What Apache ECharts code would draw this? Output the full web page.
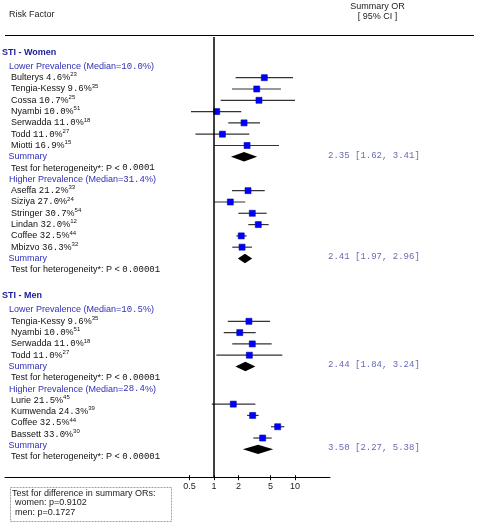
<!DOCTYPE html>
<html>
<head>
<meta charset="utf-8">
<script src="https://cdn.jsdelivr.net/npm/echarts@6/dist/echarts.min.js"></script>
<style>
html,body{margin:0;padding:0;background:#fff;}
#chart{width:478px;height:524px;}
</style>
</head>
<body>
<div id="chart"></div>
<script>
// ---------- DATA ----------
const xTicks = [0.5, 1, 2, 5, 10];

// STI - Women, lower prevalence
const wLowNames = ['Bulterys', 'Tengia-Kessy', 'Cossa', 'Nyambi', 'Serwadda', 'Todd', 'Miotti'];
const wLowPrev  = ['4.6', '9.6', '10.7', '10.0', '11.0', '11.0', '16.9'];
const wLowRefs  = ['23', '35', '25', '51', '18', '27', '15'];
const wLowOR    = [4.18, 3.37, 3.59, 1.08, 2.35, 1.27, 2.56];
const wLowLo    = [1.85, 1.67, 1.21, 0.52, 1.50, 0.59, 1.00];
const wLowHi    = [9.45, 6.71, 10.0, 2.17, 3.70, 2.73, 6.35];
const wLowSummary = [2.35, 1.62, 3.41];
const wLowMedian = '10.0';
const wLowHet = '0.0001';

// STI - Women, higher prevalence
const wHighNames = ['Aseffa', 'Siziya', 'Stringer', 'Lindan', 'Coffee', 'Mbizvo'];
const wHighPrev  = ['21.2', '27.0', '30.7', '32.0', '32.5', '36.3'];
const wHighRefs  = ['33', '24', '54', '12', '44', '32'];
const wHighOR    = [2.63, 1.59, 2.97, 3.52, 2.17, 2.22];
const wHighLo    = [1.67, 1.00, 2.00, 2.65, 1.89, 1.68];
const wHighHi    = [4.23, 2.43, 4.47, 4.73, 2.53, 2.94];
const wHighSummary = [2.41, 1.97, 2.96];
const wHighMedian = '31.4';
const wHighHet = '0.00001';

// STI - Men, lower prevalence
const mLowNames = ['Tengia-Kessy', 'Nyambi', 'Serwadda', 'Todd'];
const mLowPrev  = ['9.6', '10.0', '11.0', '11.0'];
const mLowRefs  = ['35', '51', '18', '27'];
const mLowOR    = [2.70, 2.08, 2.97, 2.73];
const mLowLo    = [1.48, 1.32, 1.68, 1.07];
const mLowHi    = [4.91, 3.27, 5.15, 6.97];
const mLowSummary = [2.44, 1.84, 3.24];
const mLowMedian = '10.5';
const mLowHet = '0.00001';

// STI - Men, higher prevalence
const mHighNames = ['Lurie', 'Kumwenda', 'Coffee', 'Bassett'];
const mHighPrev  = ['21.5', '24.3', '32.5', '33.0'];
const mHighRefs  = ['45', '39', '44', '30'];
const mHighOR    = [1.73, 3.00, 6.11, 3.99];
const mHighLo    = [0.94, 2.56, 5.05, 3.06];
const mHighHi    = [3.24, 3.56, 7.38, 5.15];
const mHighSummary = [3.50, 2.27, 5.38];
const mHighMedian = '28.4';
const mHighHet = '0.00001';

const groupTitles = ['STI - Women', 'STI - Men'];
const prevLabels = ['Lower Prevalence', 'Higher Prevalence'];
const diffTitle = 'Test for difference in summary ORs:';
const diffWomen = 'women: p=0.9102';
const diffMen = 'men: p=0.1727';

// ---------- LAYOUT ----------
const SANS = 'Liberation Sans, Arial, sans-serif';
const MONO = 'Liberation Mono, Courier New, monospace';
const Y_MIN = -3.6, Y_MAX = 35.4;     // row units covered by plot area
const X_MIN = 0.00263, X_MAX = 27.04; // log-axis extent covering the plot width

const groups = [
  { title: groupTitles[0], subs: [
    { label: prevLabels[0], start: -1, shift: 0, names: wLowNames, prev: wLowPrev, refs: wLowRefs, or: wLowOR, lo: wLowLo, hi: wLowHi, sum: wLowSummary, median: wLowMedian, het: wLowHet },
    { label: prevLabels[1], start: 9, shift: 0, names: wHighNames, prev: wHighPrev, refs: wHighRefs, or: wHighOR, lo: wHighLo, hi: wHighHi, sum: wHighSummary, median: wHighMedian, het: wHighHet }
  ]},
  { title: groupTitles[1], subs: [
    { label: prevLabels[0], start: 20.56, shift: 0, names: mLowNames, prev: mLowPrev, refs: mLowRefs, or: mLowOR, lo: mLowLo, hi: mLowHi, sum: mLowSummary, median: mLowMedian, het: mLowHet },
    { label: prevLabels[1], start: 27.56, shift: 0.33, names: mHighNames, prev: mHighPrev, refs: mHighRefs, or: mHighOR, lo: mHighLo, hi: mHighHi, sum: mHighSummary, median: mHighMedian, het: mHighHet }
  ]}
];

const studyData = [];
const summaryData = [];
groups.forEach(g => g.subs.forEach(s => {
  s.names.forEach((n, i) => {
    studyData.push([s.or[i], s.start + 1 + i + s.shift, s.lo[i], s.hi[i]]);
  });
  summaryData.push([s.sum[0], s.start + s.names.length + 1 + s.shift, s.sum[1], s.sum[2]]);
}));

const chart = echarts.init(document.getElementById('chart'), null, { renderer: 'canvas' });

const option = {
  animation: false,
  backgroundColor: '#fff',
  grid: { left: 5, top: 37, width: 325, height: 440.7 },
  xAxis: [
    {
      type: 'log', logBase: 10, min: X_MIN, max: X_MAX, position: 'bottom',
      axisLine: { show: true, onZero: false, lineStyle: { color: '#000', width: 1 } },
      axisTick: { show: true, length: 2.5, customValues: xTicks, lineStyle: { color: '#000' } },
      axisLabel: { show: true, customValues: xTicks, margin: 4, fontSize: 9, fontFamily: SANS, color: '#222',
        formatter: v => String(v) },
      splitLine: { show: false }, minorTick: { show: false }
    },
    {
      type: 'log', logBase: 10, min: X_MIN, max: X_MAX, position: 'bottom', offset: 0,
      axisLine: { show: false, onZero: false },
      axisTick: { show: true, inside: true, length: 2.5, customValues: xTicks, lineStyle: { color: '#000' } },
      axisLabel: { show: false },
      splitLine: { show: false }
    }
  ],
  yAxis: { type: 'value', inverse: true, min: Y_MIN, max: Y_MAX, show: false },
  series: [
    {
      type: 'line', xAxisIndex: 0, data: [[1, Y_MIN], [1, Y_MAX]], symbol: 'none', silent: true,
      lineStyle: { color: '#000', width: 1.5 }
    },
    {
      type: 'custom', xAxisIndex: 0, data: studyData, encode: { x: [0, 2, 3], y: 1 },
      renderItem: function (params, api) {
        const row = api.value(1);
        const pOr = api.coord([api.value(0), row]);
        const pLo = api.coord([api.value(2), row]);
        const pHi = api.coord([api.value(3), row]);
        const s = 6;
        return { type: 'group', children: [
          { type: 'line', shape: { x1: pLo[0], y1: pOr[1], x2: pHi[0], y2: pOr[1] }, style: { stroke: '#333', lineWidth: 1.2 } },
          { type: 'rect', shape: { x: pOr[0] - s / 2, y: pOr[1] - s / 2, width: s, height: s }, style: { fill: '#0000ff', stroke: '#0000b0', lineWidth: 0.6 } }
        ]};
      }
    },
    {
      type: 'custom', xAxisIndex: 0, data: summaryData, encode: { x: [0, 2, 3], y: 1 },
      renderItem: function (params, api) {
        const row = api.value(1);
        const pOr = api.coord([api.value(0), row]);
        const pLo = api.coord([api.value(2), row]);
        const pHi = api.coord([api.value(3), row]);
        const h = 4.7;
        return { type: 'polygon', shape: { points: [[pLo[0], pOr[1]], [pOr[0], pOr[1] - h], [pHi[0], pOr[1]], [pOr[0], pOr[1] + h]] },
          style: { fill: '#000' } };
      }
    }
  ]
};
chart.setOption(option);

// ---------- TEXT ----------
const rowY = r => chart.convertToPixel({ gridIndex: 0 }, [1, r])[1];
const rich = {
  n: { fontFamily: SANS, fontSize: 9, fill: '#111', lineHeight: 12 },
  d: { fontFamily: MONO, fontSize: 9, fill: '#111', lineHeight: 12 },
  s: { fontFamily: SANS, fontSize: 6, fill: '#111', lineHeight: 6, verticalAlign: 'top' },
  b: { fontFamily: SANS, fontSize: 9, fill: '#3030b8', lineHeight: 12 },
  bd: { fontFamily: MONO, fontSize: 9, fill: '#3030b8', lineHeight: 12 },
  h: { fontFamily: SANS, fontSize: 9, fontWeight: 'bold', fill: '#1c1c96', lineHeight: 12 }
};
const txt = (x, y, text, extra) => ({
  type: 'text', x: x, y: y, silent: true,
  style: Object.assign({ text: text, rich: rich, verticalAlign: 'middle', align: 'left' }, extra || {})
});

const els = [];
els.push({ type: 'text', x: 9, y: 15, silent: true, style: { text: 'Risk Factor', font: '9px ' + SANS, fill: '#222', verticalAlign: 'middle' } });
els.push({ type: 'text', x: 377.5, y: 7, silent: true, style: { text: 'Summary OR', font: '9px ' + SANS, fill: '#222', align: 'center', verticalAlign: 'middle' } });
els.push({ type: 'text', x: 377.5, y: 16.5, silent: true, style: { text: '[ 95% CI ]', font: '9px ' + SANS, fill: '#222', align: 'center', verticalAlign: 'middle' } });
els.push({ type: 'line', silent: true, shape: { x1: 5, y1: 35.5, x2: 474, y2: 35.5 }, style: { stroke: '#000', lineWidth: 1.2 } });

groups.forEach(g => {
  const first = g.subs[0];
  els.push(txt(2, rowY(first.start - 1.27), '{h|' + g.title + '}'));
  g.subs.forEach(s => {
    els.push(txt(9, rowY(s.start), '{b|' + s.label + ' (Median=}{bd|' + s.median + '}{b|%)}'));
    s.names.forEach((n, i) => {
      els.push(txt(11, rowY(s.start + 1 + i), '{n|' + n + ' }{d|' + s.prev[i] + '}{n|%}{s|' + s.refs[i] + '}'));
    });
    const k = s.names.length;
    els.push(txt(8.5, rowY(s.start + k + 1), '{b|Summary}'));
    els.push(txt(11, rowY(s.start + k + 2), '{n|Test for heterogeneity*: P < }{d|' + s.het + '}'));
    const sumTxt = s.sum[0].toFixed(2) + ' [' + s.sum[1].toFixed(2) + ', ' + s.sum[2].toFixed(2) + ']';
    els.push({ type: 'text', x: 328, y: rowY(s.start + k + 1 + s.shift) - 1.5, silent: true,
      style: { text: sumTxt, font: '9px ' + MONO, fill: '#6a6ab4', verticalAlign: 'middle' } });
  });
});

// bottom box
els.push({ type: 'rect', silent: true, shape: { x: 10.5, y: 487.5, width: 161, height: 34 },
  style: { fill: '#fff', stroke: '#a0a0a0', lineWidth: 1, lineDash: [2, 1] } });
els.push({ type: 'text', x: 12, y: 493.5, silent: true, style: { text: diffTitle, font: '9px ' + SANS, fill: '#222', verticalAlign: 'middle' } });
els.push({ type: 'text', x: 15, y: 503, silent: true, style: { text: diffWomen, font: '9px ' + SANS, fill: '#222', verticalAlign: 'middle' } });
els.push({ type: 'text', x: 15, y: 512.5, silent: true, style: { text: diffMen, font: '9px ' + SANS, fill: '#222', verticalAlign: 'middle' } });

chart.setOption({ graphic: { elements: els } });
</script>
</body>
</html>
